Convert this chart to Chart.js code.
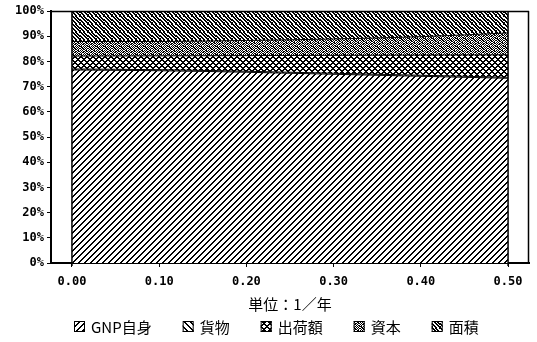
<!DOCTYPE html>
<html>
<head>
<meta charset="utf-8">
<script src="https://cdn.jsdelivr.net/npm/chart.js@4/dist/chart.umd.min.js"></script>
<style>
  html, body { margin: 0; padding: 0; background: #fff; }
  #wrap { width: 537px; height: 342px; }
</style>
</head>
<body>
<div id="wrap"><canvas id="c" width="537" height="342"></canvas></div>
<script>
// Growth rate (1/year) on the x axis, share of each component in % (stacked to 100)
const rates   = [0.00, 0.10, 0.20, 0.30, 0.40, 0.50];
const xTicks  = [0.00, 0.10, 0.20, 0.30, 0.40, 0.50];
const yTicks  = [0, 10, 20, 30, 40, 50, 60, 70, 80, 90, 100];
const seriesNames = ['GNP自身', '貨物', '出荷額', '資本', '面積'];
const gnpSelf  = [76.6, 76.3, 75.7, 74.9, 74.1, 73.3];
const freight  = [0.4, 0.4, 0.4, 0.4, 0.4, 0.4];
const shipment = [5.1, 5.5, 6.2, 7.1, 8.0, 8.9];
const capital  = [5.8, 5.7, 6.0, 6.5, 7.3, 8.7];
const area     = [12.1, 12.1, 11.7, 11.1, 10.2, 8.7];

// Bitmap tiles for the monochrome fills
function tile(rows) {
  const h = rows.length, w = rows[0].length;
  const c = document.createElement('canvas');
  c.width = w; c.height = h;
  const g = c.getContext('2d');
  g.fillStyle = '#fff'; g.fillRect(0, 0, w, h);
  g.fillStyle = '#000';
  for (let y = 0; y < h; y++)
    for (let x = 0; x < w; x++)
      if (rows[y][x] === '1') g.fillRect(x, y, 1, 1);
  return g.createPattern(c, 'repeat');
}
const patSlash = tile([
  '000011',
  '000110',
  '001100',
  '011000',
  '110000',
  '100001'
]);
const patBack = tile([
  '110000',
  '011000',
  '001100',
  '000110',
  '000011',
  '100001'
]);
const patCross = tile([
  '110011',
  '011110',
  '001100',
  '011110',
  '110011',
  '100001'
]);
const patCapital = tile([
  '10110101',
  '01011010',
  '10100110',
  '01011011',
  '10110100',
  '01001011',
  '11010101',
  '01101010'
]);
const patArea = tile([
  '11011001',
  '01101100',
  '00110110',
  '10011011',
  '11001101',
  '01100110',
  '10110011',
  '10011001'
]);

const fills = [patSlash, patBack, patCross, patCapital, patArea];
const values = [gnpSelf, freight, shipment, capital, area];

const datasets = seriesNames.map((name, i) => ({
  label: name,
  data: rates.map((r, k) => ({ x: r, y: values[i][k] })),
  backgroundColor: fills[i],
  borderColor: '#000',
  borderWidth: 1,
  pointRadius: 0,
  fill: i === 0 ? 'origin' : '-1',
  cubicInterpolationMode: 'monotone'
}));

const tickFont = { family: 'DejaVu Sans Mono', size: 12, weight: 'bold' };
const legendFont = '15px "Noto Sans CJK JP"';

// Frame on top/right plus the vertical edges of the filled region
const framePlugin = {
  id: 'frame',
  afterDatasetsDraw(chart) {
    const { ctx, chartArea: a, scales } = chart;
    ctx.save();
    ctx.strokeStyle = '#000';
    ctx.lineWidth = 1.5;
    ctx.beginPath();
    ctx.moveTo(a.left, a.top + 0.5);
    ctx.lineTo(a.right, a.top + 0.5);
    ctx.moveTo(a.right - 0.5, a.top);
    ctx.lineTo(a.right - 0.5, a.bottom);
    const x0 = scales.x.getPixelForValue(rates[0]);
    const x1 = scales.x.getPixelForValue(rates[rates.length - 1]);
    ctx.moveTo(x0, a.top); ctx.lineTo(x0, a.bottom + 3);
    ctx.moveTo(x1, a.top); ctx.lineTo(x1, a.bottom + 3);
    ctx.stroke();
    ctx.restore();
  }
};

// Single-row legend under the axis title: swatch + label for every series
const legendRow = {
  id: 'legendRow',
  afterDraw(chart) {
    const { ctx } = chart;
    const box = 11, gapText = 6, gapItem = 31;
    const centerX = 276, centerY = 326;
    ctx.save();
    ctx.font = legendFont;
    ctx.textBaseline = 'middle';
    const items = chart.data.datasets.map(ds => ({
      ds, w: ctx.measureText(ds.label).width
    }));
    const total = items.reduce((s, it) => s + box + gapText + it.w, 0) + gapItem * (items.length - 1);
    let x = Math.round(centerX - total / 2);
    items.forEach(it => {
      const top = Math.round(centerY - box / 2);
      ctx.fillStyle = it.ds.backgroundColor;
      ctx.fillRect(x, top, box, box);
      ctx.strokeStyle = '#000';
      ctx.lineWidth = 1;
      ctx.strokeRect(x + 0.5, top + 0.5, box - 1, box - 1);
      ctx.fillStyle = '#000';
      ctx.fillText(it.ds.label, x + box + gapText, centerY + 1);
      x += box + gapText + it.w + gapItem;
    });
    ctx.restore();
  }
};

new Chart(document.getElementById('c'), {
  type: 'line',
  data: { datasets },
  plugins: [framePlugin, legendRow],
  options: {
    responsive: false,
    animation: false,
    devicePixelRatio: 1,
    layout: { padding: { top: 11, right: 8, left: 0, bottom: 29 } },
    plugins: {
      tooltip: { enabled: false },
      legend: { display: false }
    },
    scales: {
      x: {
        type: 'linear',
        min: -0.024,
        max: 0.524,
        afterBuildTicks(scale) { scale.ticks = xTicks.map(v => ({ value: v })); },
        afterFit(scale) { scale.height = 50; },
        grid: { drawOnChartArea: false, tickLength: 4, color: '#000' },
        border: { color: '#000', width: 2 },
        ticks: {
          color: '#000',
          font: tickFont,
          padding: 8,
          maxRotation: 0,
          callback: v => Number(v).toFixed(2)
        },
        title: {
          display: true,
          text: '単位：1／年',
          color: '#000',
          font: { family: 'Noto Sans CJK JP', size: 15 },
          padding: { top: 2, bottom: 0 }
        }
      },
      y: {
        stacked: true,
        min: 0,
        max: 100,
        afterBuildTicks(scale) { scale.ticks = yTicks.map(v => ({ value: v })); },
        afterFit(scale) { scale.width = 51; },
        grid: { drawOnChartArea: false, tickLength: 4, color: '#000' },
        border: { color: '#000', width: 2 },
        ticks: {
          color: '#000',
          font: tickFont,
          padding: 3,
          callback: v => v + '%'
        }
      }
    }
  }
});
</script>
</body>
</html>
